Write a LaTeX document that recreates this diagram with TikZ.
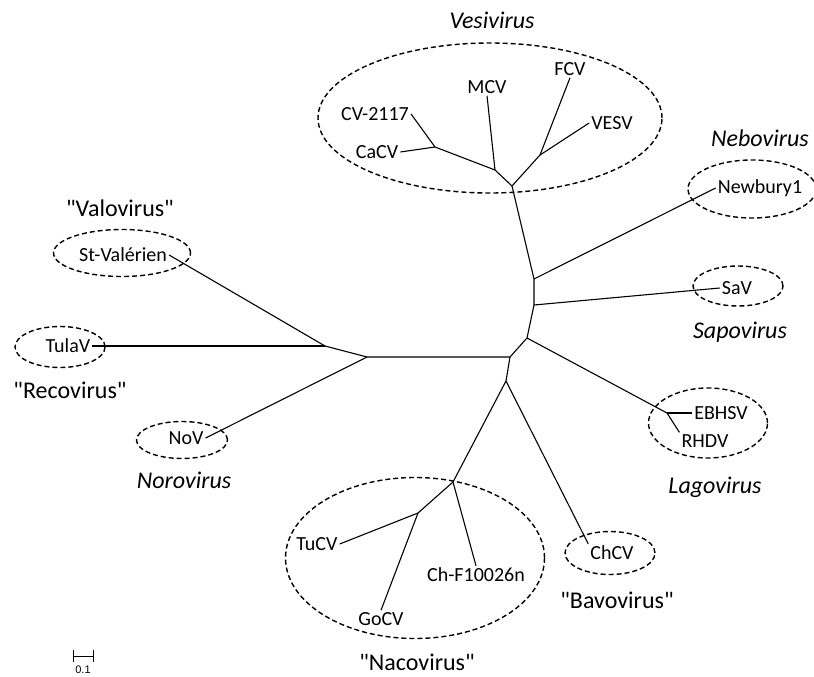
\documentclass[tikz,border=0pt]{standalone}
\usepackage{fontspec}
\setmainfont{Carlito}
\newfontfamily\barfont{Liberation Sans}
\usetikzlibrary{shapes.geometric}
\newcommand\dq{\XeTeXglyph\XeTeXcharglyph"22\relax}
\begin{document}
\begin{tikzpicture}[x=1pt,y=-1pt,
    leaf/.style={inner sep=2pt,font=\fontsize{20}{22}\selectfont},
    genus/.style={inner sep=1pt,font=\fontsize{24}{26}\selectfont\itshape},
    proposed/.style={inner sep=1pt,font=\fontsize{24}{26}\selectfont},
    clade/.style={draw,ellipse,inner sep=0pt,line width=1.4pt,dash pattern=on 5pt off 3pt},
    branch/.style={line width=1.1pt}]
    \useasboundingbox (0,0) rectangle (814,677);

    \node[clade,minimum width=344,minimum height=150] (vesiring) at (490,118) {};
    \node[clade,minimum width=128,minimum height=58] (nebring) at (752,189) {};
    \node[clade,minimum width=90,minimum height=40] (saring) at (738,286) {};
    \node[clade,minimum width=119,minimum height=70] (lagring) at (708,423) {};
    \node[clade,minimum width=90,minimum height=43] (bavring) at (610,553) {};
    \node[clade,minimum width=259,minimum height=161] (nacring) at (415,558) {};
    \node[clade,minimum width=91,minimum height=37] (noring) at (182,440) {};
    \node[clade,minimum width=90,minimum height=41] (recring) at (60,347) {};
    \node[clade,minimum width=137,minimum height=47] (valring) at (122,253) {};

    \node[genus] (vesivirus) at (492,20) {Vesivirus};
    \node[genus] (nebovirus) at (760,138) {Nebovirus};
    \node[genus] (sapovirus) at (740,332) {Sapovirus};
    \node[genus] (lagovirus) at (715,487) {Lagovirus};
    \node[proposed] (bavovirus) at (617,600) {\dq Bavovirus\dq};
    \node[proposed] (nacovirus) at (417,662) {\dq Nacovirus\dq};
    \node[genus] (norovirus) at (184,480) {Norovirus};
    \node[proposed] (recovirus) at (70,390) {\dq Recovirus\dq};
    \node[proposed] (valovirus) at (120,208) {\dq Valovirus\dq};

    \node[leaf] (mcv) at (487,87) {MCV};
    \node[leaf] (cv) at (375,114) {CV-2117};
    \node[leaf] (cacv) at (377,152) {CaCV};
    \node[leaf] (fcv) at (570,69) {FCV};
    \node[leaf] (vesv) at (612,123) {VESV};
    \node[leaf] (newbury) at (760,188) {Newbury1};
    \node[leaf] (sav) at (737,288) {SaV};
    \node[leaf] (ebhsv) at (721,413) {EBHSV};
    \node[leaf] (rhdv) at (705,441) {RHDV};
    \node[leaf] (chcv) at (612,553) {ChCV};
    \node[leaf] (chf) at (476,575) {Ch-F10026n};
    \node[leaf] (gocv) at (381,619) {GoCV};
    \node[leaf] (tucv) at (317,544) {TuCV};
    \node[leaf] (nov) at (186,438) {NoV};
    \node[leaf] (tulav) at (68,346) {TulaV};
    \node[leaf] (stv) at (123,255) {St-Valérien};

    \coordinate (vroot) at (512,186);
    \coordinate (vmcv) at (495,170);
    \coordinate (vca) at (435,147);
    \coordinate (vfcv) at (540,155);
    \coordinate (nebj) at (534,279);
    \coordinate (savj) at (534,305);
    \coordinate (lagoj) at (527,338);
    \coordinate (mid) at (510,357);
    \coordinate (left) at (367,357);
    \coordinate (lval) at (325,346);
    \coordinate (bot) at (506,381);
    \coordinate (naco) at (453,482);
    \coordinate (tu) at (418,513);
    \coordinate (lagj) at (667,413);

    \draw[branch] (vroot) -- (nebj) -- (savj) -- (lagoj) -- (mid) -- (bot);
    \draw[branch] (mid) -- (left) -- (lval);
    \draw[branch] (vroot) -- (vmcv) -- (vca);
    \draw[branch] (vroot) -- (vfcv);
    \draw[branch] (vmcv) -- (mcv.south);
    \draw[branch] (vca) -- (cv.east);
    \draw[branch] (vca) -- (cacv.east);
    \draw[branch] (vfcv) -- (fcv.south);
    \draw[branch] (vfcv) -- (vesv.west);
    \draw[branch] (nebj) -- (newbury.west);
    \draw[branch] (savj) -- (sav.west);
    \draw[branch] (lagoj) -- (lagj);
    \draw[branch] (lagj) -- (ebhsv.west);
    \draw[branch] (lagj) -- (rhdv.north west);
    \draw[branch] (bot) -- (chcv.north west);
    \draw[branch] (bot) -- (naco) -- (tu);
    \draw[branch] (naco) -- (chf.north);
    \draw[branch] (tu) -- (gocv.north);
    \draw[branch] (tu) -- (tucv.east);
    \draw[branch] (left) -- (nov.east);
    \draw[branch] (lval) -- (tulav.east);
    \draw[branch] (lval) -- (stv.east);

    \coordinate (sbl) at (73,656);
    \coordinate (sbr) at (93,656);
    \draw ([yshift=6]sbl) -- ([yshift=-6]sbl) (sbl) -- (sbr) ([yshift=6]sbr) -- ([yshift=-6]sbr);
    \node[font=\barfont\fontsize{11}{12}\selectfont] (scale) at (83,670) {0.1};
\end{tikzpicture}
\end{document}
